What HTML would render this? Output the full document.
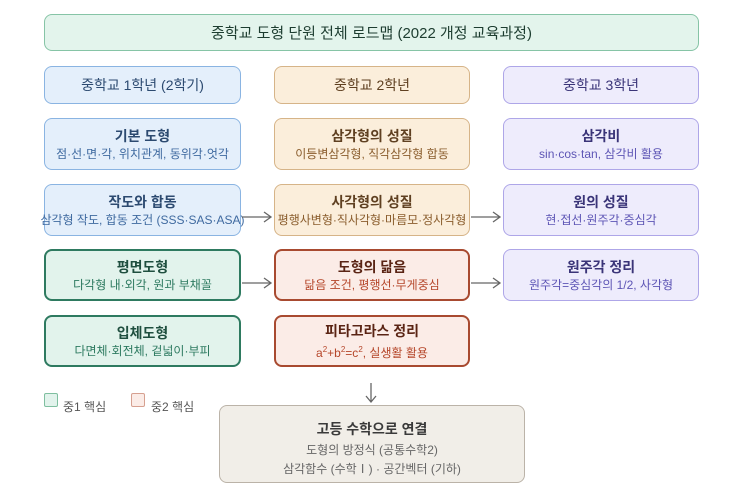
<!DOCTYPE html>
<html><head><meta charset="utf-8"><style>
body{margin:0;width:743px;height:503px;background:#fff;position:relative;overflow:hidden;font-family:"Liberation Sans","Noto Sans CJK KR",sans-serif}
.b{position:absolute;box-sizing:border-box;border:1px solid;border-radius:8px;text-align:center;display:flex;flex-direction:column;justify-content:center;align-items:center;white-space:nowrap}
.t{font-size:14px;font-weight:bold;line-height:20px}
.s{font-size:12px;line-height:17px}
.bl{background:#e4effb;border-color:#8ab4e2;color:#2c4a70}.bl .s{color:#3f6aa0}
.or{background:#fbeedb;border-color:#d6b488;color:#5f4021}.or .s{color:#8a5d2d}
.pu{background:#eeecfc;border-color:#aea6e8;color:#3a3478}.pu .s{color:#5d55b5}
.gr{background:#e2f3ec;border-color:#2e7a60;border-width:2px;color:#1f4f3f}.gr .s{color:#2d7a60}
.rd{background:#fbece7;border-color:#a84a30;border-width:2px;color:#5a2414}.rd .s{color:#b5462a}
.h{font-size:14px;font-weight:normal}
.c1{left:44px;width:197px}.c2{left:274px;width:196px}.c3{left:503px;width:196px}
</style></head><body>
<div class="b" style="left:44px;top:14px;width:655px;height:37px;background:#e3f4ec;border-color:#86c4a6;color:#1d3d30;font-size:15px">중학교 도형 단원 전체 로드맵 (2022 개정 교육과정)</div>
<div class="b bl c1 h" style="top:66px;height:38px">중학교 1학년 (2학기)</div>
<div class="b or c2 h" style="top:66px;height:38px">중학교 2학년</div>
<div class="b pu c3 h" style="top:66px;height:38px">중학교 3학년</div>

<div class="b bl c1" style="top:118px;height:52px"><div class="t">기본 도형</div><div class="s">점·선·면·각, 위치관계, 동위각·엇각</div></div>
<div class="b or c2" style="top:118px;height:52px"><div class="t">삼각형의 성질</div><div class="s">이등변삼각형, 직각삼각형 합동</div></div>
<div class="b pu c3" style="top:118px;height:52px"><div class="t">삼각비</div><div class="s">sin·cos·tan, 삼각비 활용</div></div>

<div class="b bl c1" style="top:184px;height:52px"><div class="t">작도와 합동</div><div class="s">삼각형 작도, 합동 조건 (SSS·SAS·ASA)</div></div>
<div class="b or c2" style="top:184px;height:52px"><div class="t">사각형의 성질</div><div class="s">평행사변형·직사각형·마름모·정사각형</div></div>
<div class="b pu c3" style="top:184px;height:52px"><div class="t">원의 성질</div><div class="s">현·접선·원주각·중심각</div></div>

<div class="b gr c1" style="top:249px;height:52px"><div class="t">평면도형</div><div class="s">다각형 내·외각, 원과 부채꼴</div></div>
<div class="b rd c2" style="top:249px;height:52px"><div class="t">도형의 닮음</div><div class="s">닮음 조건, 평행선·무게중심</div></div>
<div class="b pu c3" style="top:249px;height:52px"><div class="t">원주각 정리</div><div class="s">원주각=중심각의 1/2, 사각형</div></div>

<div class="b gr c1" style="top:315px;height:52px"><div class="t">입체도형</div><div class="s">다면체·회전체, 겉넓이·부피</div></div>
<div class="b rd c2" style="top:315px;height:52px"><div class="t">피타고라스 정리</div><div class="s">a<sup style="font-size:8px">2</sup>+b<sup style="font-size:8px">2</sup>=c<sup style="font-size:8px">2</sup>, 실생활 활용</div></div>

<div style="position:absolute;left:44px;top:393px;width:12px;height:12px;border:1px solid #7fbfa0;background:#e2f3ec;border-radius:2px"></div>
<div style="position:absolute;left:63px;top:398px;font-size:12px;color:#555">중1 핵심</div>
<div style="position:absolute;left:131px;top:393px;width:12px;height:12px;border:1px solid #d6a090;background:#fbece7;border-radius:2px"></div>
<div style="position:absolute;left:151px;top:398px;font-size:12px;color:#555">중2 핵심</div>

<div class="b" style="left:219px;top:405px;width:306px;height:78px;padding-top:8px;background:#f1eee8;border-color:#bbb3a8;color:#3a3a3a">
<div style="font-size:14px;font-weight:bold;line-height:24px">고등 수학으로 연결</div>
<div class="s" style="color:#666;line-height:19px">도형의 방정식 (공통수학2)</div>
<div class="s" style="color:#666;line-height:19px">삼각함수 (수학Ⅰ) · 공간벡터 (기하)</div></div>

<svg style="position:absolute;left:0;top:0" width="743" height="503">
<g stroke="#666" stroke-width="1.3" fill="none">
<path d="M242 217H271M264 212L271 217L264 222"/>
<path d="M471 217H500M493 212L500 217L493 222"/>
<path d="M242 283H271M264 278L271 283L264 288"/>
<path d="M471 283H500M493 278L500 283L493 288"/>
<path d="M371 383V402M366 396L371 402L376 396"/>
</g></svg>
</body></html>
